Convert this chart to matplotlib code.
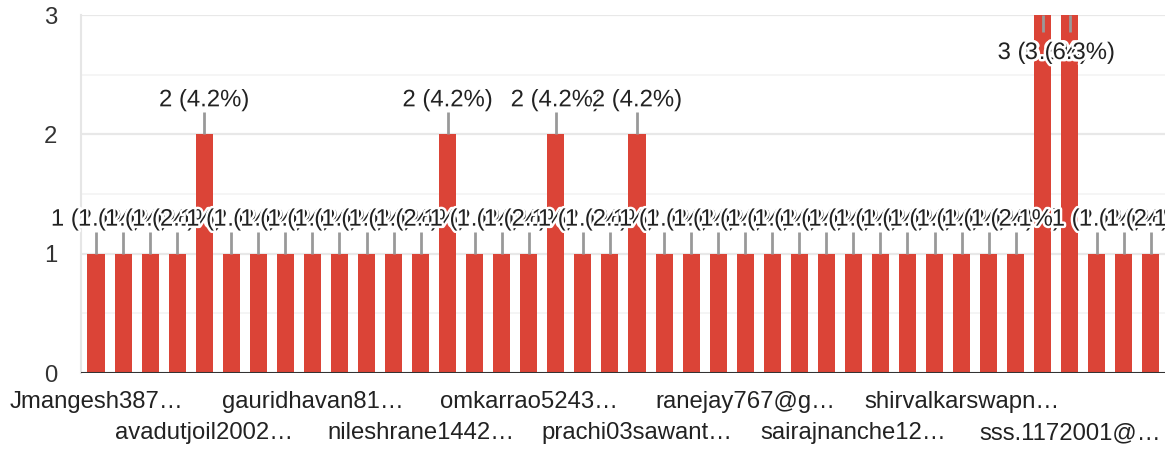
import matplotlib
matplotlib.use("Agg")
import matplotlib.pyplot as plt
import matplotlib.patheffects as pe

# ---- data ----
counts = [1, 1, 1, 1, 2, 1, 1, 1, 1, 1,
          1, 1, 1, 2, 1, 1, 1, 2, 1, 1,
          2, 1, 1, 1, 1, 1, 1, 1, 1, 1,
          1, 1, 1, 1, 1, 3, 3, 1, 1, 1]
tick_labels = ["Jmangesh387…", "avadutjoil2002…", "gauridhavan81…", "nileshrane1442…",
               "omkarrao5243…", "prachi03sawant…", "ranejay767@g…", "sairajnanche12…",
               "shirvalkarswapn…", "sss.1172001@…"]
tick_every = 4
yticks = [0, 1, 2, 3]

total = sum(counts)
bar_labels = [f"{v} ({v / total * 100 + 1e-9:.1f}%)" for v in counts]

plt.rcParams['font.family'] = ['Liberation Sans', 'DejaVu Sans']
FS = 17.2
W, H, DPI = 1165, 450, 100
fig = plt.figure(figsize=(W / DPI, H / DPI), dpi=DPI)
ax = fig.add_axes([81 / W, 77 / H, 1 - 81 / W, (373 - 15) / H])

RED = "#db4437"
TXT = "#222222"
px = 1.0 / 119.3  # data units per pixel in y

xs = list(range(len(counts)))
ax.bar(xs, counts, width=0.63, color=RED, zorder=2)

ax.set_xlim(-0.555, 39.52)
ax.set_ylim(0, 3)

# gridlines
for y in yticks:
    ax.axhline(y, color="#e8e8e8", lw=1.6, zorder=0)
for y in [0.5, 1.5, 2.5]:
    ax.axhline(y, color="#f3f3f3", lw=1.2, zorder=0)
ax.axhline(0, color="#333333", lw=2.2, zorder=3)

for s in ["top", "right", "bottom"]:
    ax.spines[s].set_visible(False)
ax.spines["left"].set_color("#e6e6e6")
ax.spines["left"].set_linewidth(1.5)

ax.set_yticks(yticks)
ax.set_yticklabels([str(t) for t in yticks], fontsize=FS, color="#333333")
ax.tick_params(axis="y", length=0, pad=17)
ax.set_xticks([])

# bar annotations with leader lines
halo = [pe.withStroke(linewidth=3.5, foreground="white")]
for i, (v, lab) in enumerate(zip(counts, bar_labels)):
    if v >= 3:
        ax.plot([i, i], [v, v - 17 * px], color="#999999", lw=2, zorder=4,
                solid_capstyle="butt", clip_on=False)
        ty = v - 38 * px
    else:
        ax.plot([i, i], [v, v + 22 * px], color="#999999", lw=2, zorder=4,
                solid_capstyle="butt", clip_on=False)
        ty = v + 34 * px
    ax.text(i, ty, lab, ha="center", va="center", fontsize=FS, color=TXT,
            path_effects=halo, zorder=5, clip_on=False)

# category labels (two staggered rows)
for k, name in enumerate(tick_labels):
    pos = k * tick_every
    off = -29 if k % 2 == 0 else -60
    ax.annotate(name, xy=(pos, 0), xycoords=("data", "axes fraction"),
                xytext=(0, off), textcoords="offset pixels",
                ha="center", va="center", fontsize=FS, color=TXT,
                annotation_clip=False)

fig.savefig("out.png", dpi=DPI)
